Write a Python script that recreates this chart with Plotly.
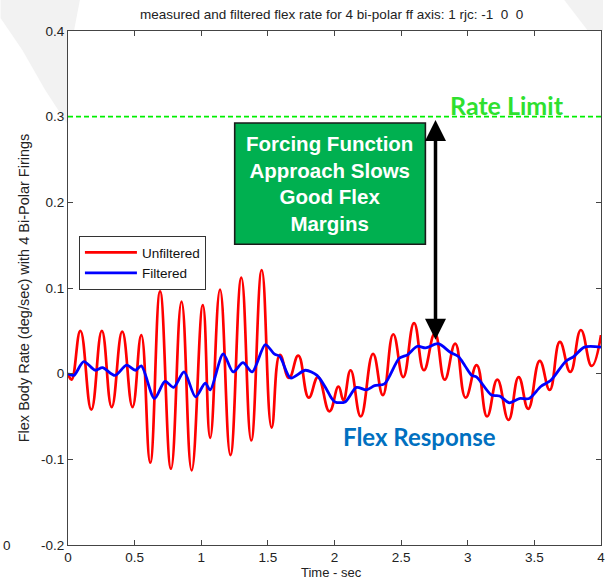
import plotly.graph_objects as go

# Measured (unfiltered) flex body rate, deg/sec
t_unfiltered = [0.000, 0.027, 0.093, 0.175, 0.254, 0.328, 0.407, 0.484, 0.550, 0.617,
                0.691, 0.773, 0.852, 0.928, 1.012, 1.067, 1.141, 1.219, 1.301, 1.375,
                1.454, 1.528, 1.590, 1.659, 1.728, 1.807, 1.876, 1.962, 2.030, 2.067,
                2.121, 2.197, 2.289, 2.363, 2.441, 2.516, 2.597, 2.671, 2.753, 2.827,
                2.906, 2.984, 3.067, 3.145, 3.222, 3.306, 3.382, 3.454, 3.540, 3.615,
                3.691, 3.770, 3.849, 3.930, 4.000]
v_unfiltered = [0.000, -0.007, 0.050, -0.042, 0.050, -0.039, 0.049, -0.039, 0.045, -0.104,
                0.096, -0.111, 0.084, -0.113, 0.080, -0.075, 0.098, -0.095, 0.112, -0.078,
                0.121, -0.063, 0.022, -0.005, 0.021, -0.028, -0.004, -0.044, -0.015, -0.031,
                0.004, -0.050, 0.023, -0.025, 0.046, -0.004, 0.059, 0.004, 0.047, -0.007,
                0.035, -0.028, 0.010, -0.050, -0.007, -0.054, -0.004, -0.041, 0.015, -0.019,
                0.037, 0.002, 0.051, 0.009, 0.045]

# Filtered flex body rate, deg/sec
t_filtered = [0.000, 0.044, 0.118, 0.204, 0.259, 0.353, 0.439, 0.506, 0.550, 0.649,
              0.728, 0.793, 0.871, 0.957, 1.030, 1.067, 1.165, 1.239, 1.313, 1.382,
              1.481, 1.548, 1.590, 1.671, 1.782, 1.869, 1.943, 1.975, 2.004, 2.079,
              2.165, 2.239, 2.301, 2.375, 2.486, 2.548, 2.622, 2.684, 2.778, 2.869,
              2.930, 2.980, 3.030, 3.067, 3.178, 3.239, 3.313, 3.387, 3.461, 3.548,
              3.622, 3.733, 3.795, 3.876, 4.000]
v_filtered = [0.000, -0.002, 0.014, 0.004, 0.007, -0.002, 0.010, 0.004, 0.009, -0.029,
              -0.009, -0.016, 0.002, -0.027, -0.011, -0.019, 0.023, 0.002, 0.013, 0.002,
              0.034, 0.023, 0.020, -0.005, 0.004, -0.002, -0.019, -0.028, -0.033, -0.033,
              -0.016, -0.019, -0.014, -0.012, 0.018, 0.022, 0.032, 0.030, 0.035, 0.025,
              0.020, 0.009, -0.002, -0.004, -0.025, -0.026, -0.034, -0.029, -0.029, -0.015,
              -0.008, 0.014, 0.020, 0.031, 0.031]

rate_limit = 0.3
arrow_time = 2.758
arrow_low = 0.0395

x_tickvals = [0, 0.5, 1, 1.5, 2, 2.5, 3, 3.5, 4]
x_ticktext = ["0", "0.5", "1", "1.5", "2", "2.5", "3", "3.5", "4"]
y_tickvals = [-0.2, -0.1, 0, 0.1, 0.2, 0.3, 0.4]
y_ticktext = ["-0.2", "-0.1", "0", "0.1", "0.2", "0.3", "0.4"]

AX_FONT = "Liberation Sans, Arial, sans-serif"
CALLOUT_FONT = "Lato, Open Sans, sans-serif"
TXT = 13.5

# plot-area geometry in pixels, used to place the faint backdrop outside the axes
L, R, T, B = 68, 605, 31, 545


def px(xp, yp):
    return (xp - L) / (R - L), (B - yp) / (B - T)


def poly(points):
    pts = [px(a, b) for a, b in points]
    return "M " + " L ".join(f"{a:.4f},{b:.4f}" for a, b in pts) + " Z"


fig = go.Figure()

fig.add_trace(go.Scatter(
    x=t_unfiltered, y=v_unfiltered, mode="lines", name="Unfiltered",
    line=dict(color="#ff0000", width=2.7, shape="spline", smoothing=1.3),
))
fig.add_trace(go.Scatter(
    x=t_filtered, y=v_filtered, mode="lines", name="Filtered",
    line=dict(color="#0000ff", width=2.8, shape="spline", smoothing=0.8),
))

# faint slide backdrop around the axes
fig.add_shape(type="path", xref="paper", yref="paper", layer="below",
              path=poly([(0, 0), (80, 0), (74, 31), (68, 31), (68, 125),
                         (45, 90), (22, 50), (0, 18)]),
              fillcolor="#f2f2f2", line=dict(width=0))
fig.add_shape(type="path", xref="paper", yref="paper", layer="below",
              path=poly([(568, 0), (607, 0), (607, 31), (592, 31)]),
              fillcolor="#f2f2f2", line=dict(width=0))

# rate limit line
fig.add_shape(type="line", xref="x", yref="y", x0=0, x1=4, y0=rate_limit, y1=rate_limit,
              line=dict(color="#00f000", width=1.6, dash="5px,3px"))

# callout box
fig.add_shape(type="rect", xref="x", yref="y", x0=1.251, x1=2.682, y0=0.151, y1=0.2926,
              fillcolor="#00b050", line=dict(color="#1a1a1a", width=1.6))

annotations = [
    dict(text="Forcing Function<br>Approach Slows<br>Good Flex<br>Margins",
         x=1.966, y=0.222, xref="x", yref="y", showarrow=False,
         font=dict(family=AX_FONT, size=20.5, color="white", weight="bold"),
         align="center"),
    dict(text="Rate Limit", x=3.293, y=0.3137, xref="x", yref="y", showarrow=False,
         font=dict(family=CALLOUT_FONT, size=25, color="#2ee02e", weight="bold")),
    dict(text="Flex Response", x=2.635, y=-0.0739, xref="x", yref="y", showarrow=False,
         font=dict(family=CALLOUT_FONT, size=24, color="#0070c0", weight="bold")),
    # double-headed arrow from the filtered peak up to the rate limit
    dict(text="", x=arrow_time, y=arrow_low, ax=arrow_time, ay=rate_limit - 0.002,
         xref="x", yref="y", axref="x", ayref="y", showarrow=True,
         arrowhead=2, arrowsize=1.2, arrowwidth=3.5, arrowcolor="black",
         arrowside="end+start", startarrowhead=2, startarrowsize=1.2),
    dict(text="measured and filtered flex rate for 4 bi-polar ff axis: 1 rjc: -1  0  0",
         x=0.4935, y=1.033, xref="paper", yref="paper", showarrow=False,
         xanchor="center", yanchor="middle",
         font=dict(family=AX_FONT, size=TXT, color="#222222")),
    dict(text="Time - sec", x=0.4935, y=px(0, 572)[1], xref="paper", yref="paper",
         showarrow=False, xanchor="center", yanchor="middle",
         font=dict(family=AX_FONT, size=13, color="#222222")),
    dict(text="Flex Body Rate (deg/sec) with 4 Bi-Polar Firings", x=-0.082, y=0.5,
         xref="paper", yref="paper", showarrow=False, textangle=-90,
         xanchor="center", yanchor="middle",
         font=dict(family=AX_FONT, size=14.5, color="#222222")),
    dict(text="0", x=px(0, 0)[0], y=0, xref="paper", yref="paper", showarrow=False,
         xanchor="left", yanchor="middle",
         font=dict(family=AX_FONT, size=TXT, color="#222222")),
]

axis_common = dict(
    showline=True, linecolor="#444444", linewidth=1, mirror="ticks",
    ticks="inside", ticklen=5, tickcolor="#444444", showgrid=False, zeroline=False,
    ticklabeloverflow="allow",
    tickfont=dict(family=AX_FONT, size=TXT, color="#222222"),
)

fig.update_layout(
    width=607, height=581,
    margin=dict(l=L, r=607 - R, t=T, b=581 - B),
    paper_bgcolor="white", plot_bgcolor="white",
    xaxis=dict(range=[0, 4], tickvals=x_tickvals, ticktext=x_ticktext, **axis_common),
    yaxis=dict(range=[-0.2, 0.4], tickvals=y_tickvals, ticktext=y_ticktext, **axis_common),
    annotations=annotations,
    legend=dict(x=0.0205, y=0.601, xanchor="left", yanchor="top",
                bgcolor="white", bordercolor="#333333", borderwidth=1,
                itemwidth=52, tracegroupgap=0,
                font=dict(family=AX_FONT, size=TXT, color="#111111")),
    showlegend=True,
)

fig.write_html("out.html")
